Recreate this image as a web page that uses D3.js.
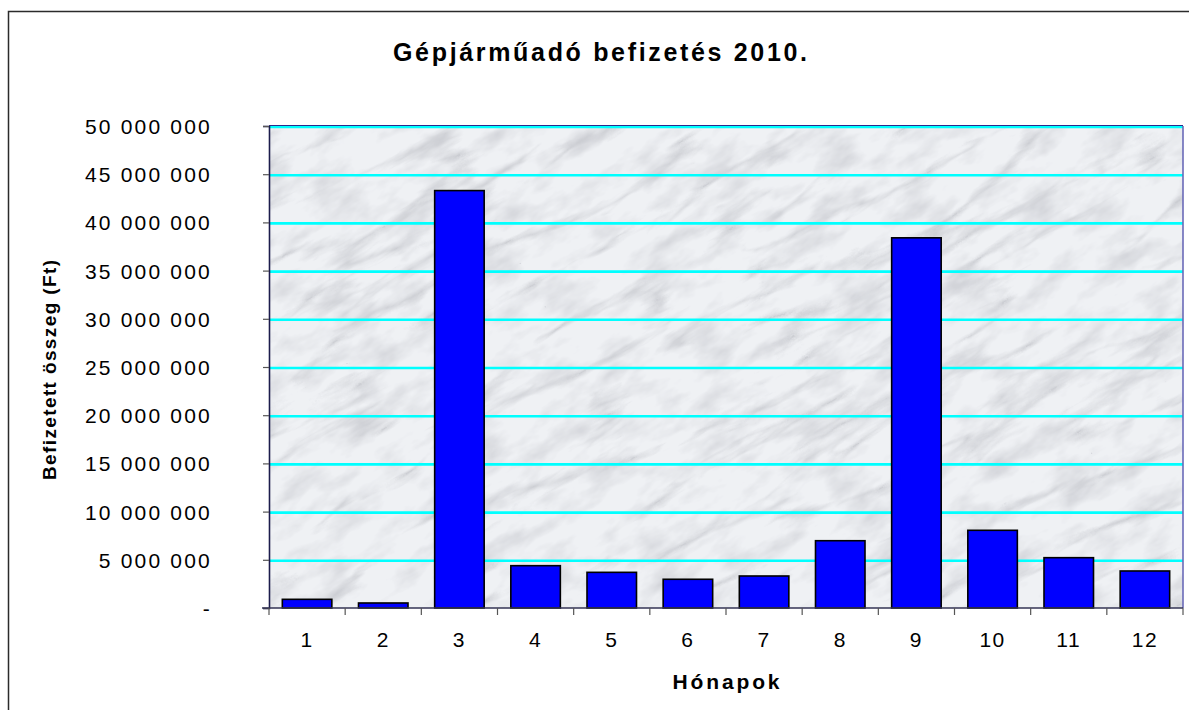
<!DOCTYPE html>
<html>
<head>
<meta charset="utf-8">
<script src="https://cdn.jsdelivr.net/npm/d3@7/dist/d3.min.js"></script>
<style>
  html, body { margin: 0; padding: 0; background: #fff; }
  svg { display: block; font-family: "Liberation Sans", Arial, sans-serif; }
</style>
</head>
<body>
<svg id="chart" width="1189" height="710"></svg>
<script>
// ---- data ----
const months = ["1", "2", "3", "4", "5", "6", "7", "8", "9", "10", "11", "12"];
const payments = [900000, 520000, 43300000, 4390000, 3700000, 2980000, 3320000, 6980000, 38400000, 8060000, 5220000, 3840000];
const yTickValues = [0, 5000000, 10000000, 15000000, 20000000, 25000000, 30000000, 35000000, 40000000, 45000000, 50000000];
const titleText = "Gépjárműadó befizetés 2010.";
const xTitleText = "Hónapok";
const yTitleText = "Befizetett összeg (Ft)";

// ---- layout ----
const plot = { left: 269, right: 1183, top: 126, bottom: 608 };

const svg = d3.select("#chart");

// outer chart border
svg.append("rect")
  .attr("x", 8.5).attr("y", 11.5)
  .attr("width", 1200).attr("height", 720)
  .attr("fill", "#fff").attr("stroke", "#2b2b2b").attr("stroke-width", 1.5);

const x = d3.scaleBand().domain(months).range([plot.left, plot.right]).paddingInner(0.35).paddingOuter(0.175);
const xb = d3.scaleBand().domain(months).range([plot.left, plot.right]);
const y = d3.scaleLinear().domain([0, 50000000]).range([plot.bottom, plot.top]);

// ---- marble-like background ----
const defs = svg.append("defs");
defs.append("clipPath").attr("id", "plotClip")
  .append("rect").attr("x", plot.left).attr("y", plot.top)
  .attr("width", plot.right - plot.left).attr("height", plot.bottom - plot.top);

const f = defs.append("filter").attr("id", "marble")
  .attr("x", "0").attr("y", "0").attr("width", "100%").attr("height", "100%");
f.append("feTurbulence").attr("type", "turbulence")
  .attr("baseFrequency", "0.005 0.02").attr("numOctaves", 5).attr("seed", 11).attr("result", "t");
f.append("feColorMatrix").attr("in", "t").attr("type", "matrix")
  .attr("values", "0 0 0 0 0.45  0 0 0 0 0.46  0 0 0 0 0.50  -3.4 0 0 0 0.8").attr("result", "veins");
f.append("feTurbulence").attr("type", "fractalNoise")
  .attr("baseFrequency", "0.02 0.045").attr("numOctaves", 4).attr("seed", 4).attr("result", "n");
f.append("feColorMatrix").attr("in", "n").attr("type", "matrix")
  .attr("values", "0 0 0 0 0.58  0 0 0 0 0.59  0 0 0 0 0.63  2.2 0 0 0 -1.0").attr("result", "spots");
f.append("feFlood").attr("flood-color", "#eff1f4").attr("result", "base");
f.append("feMerge").selectAll("feMergeNode").data(["base", "spots", "veins"]).join("feMergeNode").attr("in", d => d);

const bg = svg.append("g").attr("clip-path", "url(#plotClip)");
bg.append("rect").attr("x", plot.left).attr("y", plot.top)
  .attr("width", plot.right - plot.left).attr("height", plot.bottom - plot.top)
  .attr("fill", "#eff1f4");
bg.append("g")
  .attr("transform", `rotate(-30 ${(plot.left + plot.right) / 2} ${(plot.top + plot.bottom) / 2})`)
  .append("rect")
  .attr("x", plot.left - 300).attr("y", plot.top - 450)
  .attr("width", plot.right - plot.left + 600).attr("height", plot.bottom - plot.top + 900)
  .attr("filter", "url(#marble)").attr("opacity", 0.72);

// ---- gridlines ----
svg.append("g").selectAll("line").data(yTickValues.filter(d => d > 0)).join("line")
  .attr("x1", plot.left).attr("x2", plot.right)
  .attr("y1", d => y(d) + 1).attr("y2", d => y(d) + 1)
  .attr("stroke", "#00ffff").attr("stroke-width", 2.6);

// top and right frame
svg.append("line").attr("x1", plot.left).attr("x2", plot.right)
  .attr("y1", plot.top - 0.5).attr("y2", plot.top - 0.5)
  .attr("stroke", "#2a2a8c").attr("stroke-width", 1.2);
svg.append("line").attr("x1", plot.right).attr("x2", plot.right)
  .attr("y1", plot.top).attr("y2", plot.bottom)
  .attr("stroke", "#6a6ab8").attr("stroke-width", 1.6);

// ---- bars ----
svg.append("g").selectAll("rect").data(months).join("rect")
  .attr("x", (d) => x(d))
  .attr("y", (d, i) => y(payments[i]))
  .attr("width", x.bandwidth())
  .attr("height", (d, i) => plot.bottom - y(payments[i]))
  .attr("fill", "#0000ff")
  .attr("stroke", "#000").attr("stroke-width", 1.6);

// ---- y axis ----
const fmt = d => d === 0 ? "-" : d3.format(",")(d).replace(/,/g, " ");
const yAxis = svg.append("g").attr("transform", `translate(${plot.left},0)`)
  .call(d3.axisLeft(y).tickValues(yTickValues).tickSize(6).tickPadding(0).tickFormat(fmt));
yAxis.select(".domain").attr("stroke", "#1c1c4c").attr("stroke-width", 1.6);
yAxis.selectAll(".tick line").attr("stroke", "#555").attr("stroke-width", 1.2);
yAxis.selectAll(".tick text")
  .attr("x", -57).attr("dy", "0.36em")
  .attr("font-size", 21).attr("letter-spacing", "2.2px")
  .attr("font-family", "Liberation Sans, Arial, sans-serif")
  .attr("fill", "#000");

// ---- x axis ----
const xAxis = svg.append("g").attr("transform", `translate(0,${plot.bottom})`)
  .call(d3.axisBottom(x).tickSize(0).tickPadding(0));
xAxis.select(".domain").remove();
xAxis.selectAll(".tick text")
  .attr("y", 39).attr("dy", 0)
  .attr("font-size", 21).attr("letter-spacing", "1.5px")
  .attr("font-family", "Liberation Sans, Arial, sans-serif")
  .attr("fill", "#000");
svg.append("line").attr("x1", plot.left - 7).attr("x2", plot.right)
  .attr("y1", plot.bottom).attr("y2", plot.bottom)
  .attr("stroke", "#333355").attr("stroke-width", 1.4);
const edges = months.map(m => xb(m)).concat([plot.right]);
svg.append("g").selectAll("line").data(edges).join("line")
  .attr("x1", d => d).attr("x2", d => d)
  .attr("y1", plot.bottom).attr("y2", plot.bottom + 7)
  .attr("stroke", "#555").attr("stroke-width", 1.2);

// ---- titles ----
svg.append("text")
  .attr("x", 600).attr("y", 61)
  .attr("text-anchor", "middle")
  .attr("font-size", 25).attr("font-weight", "bold")
  .attr("textLength", 414).attr("lengthAdjust", "spacing")
  .text(titleText);

svg.append("text")
  .attr("x", (plot.left + plot.right) / 2).attr("y", 689)
  .attr("text-anchor", "middle")
  .attr("font-size", 21).attr("font-weight", "bold")
  .attr("textLength", 107).attr("lengthAdjust", "spacing")
  .text(xTitleText);

svg.append("text")
  .attr("transform", "translate(56,370) rotate(-90)")
  .attr("text-anchor", "middle")
  .attr("font-size", 19).attr("font-weight", "bold")
  .attr("textLength", 220).attr("lengthAdjust", "spacing")
  .text(yTitleText);
</script>
</body>
</html>
